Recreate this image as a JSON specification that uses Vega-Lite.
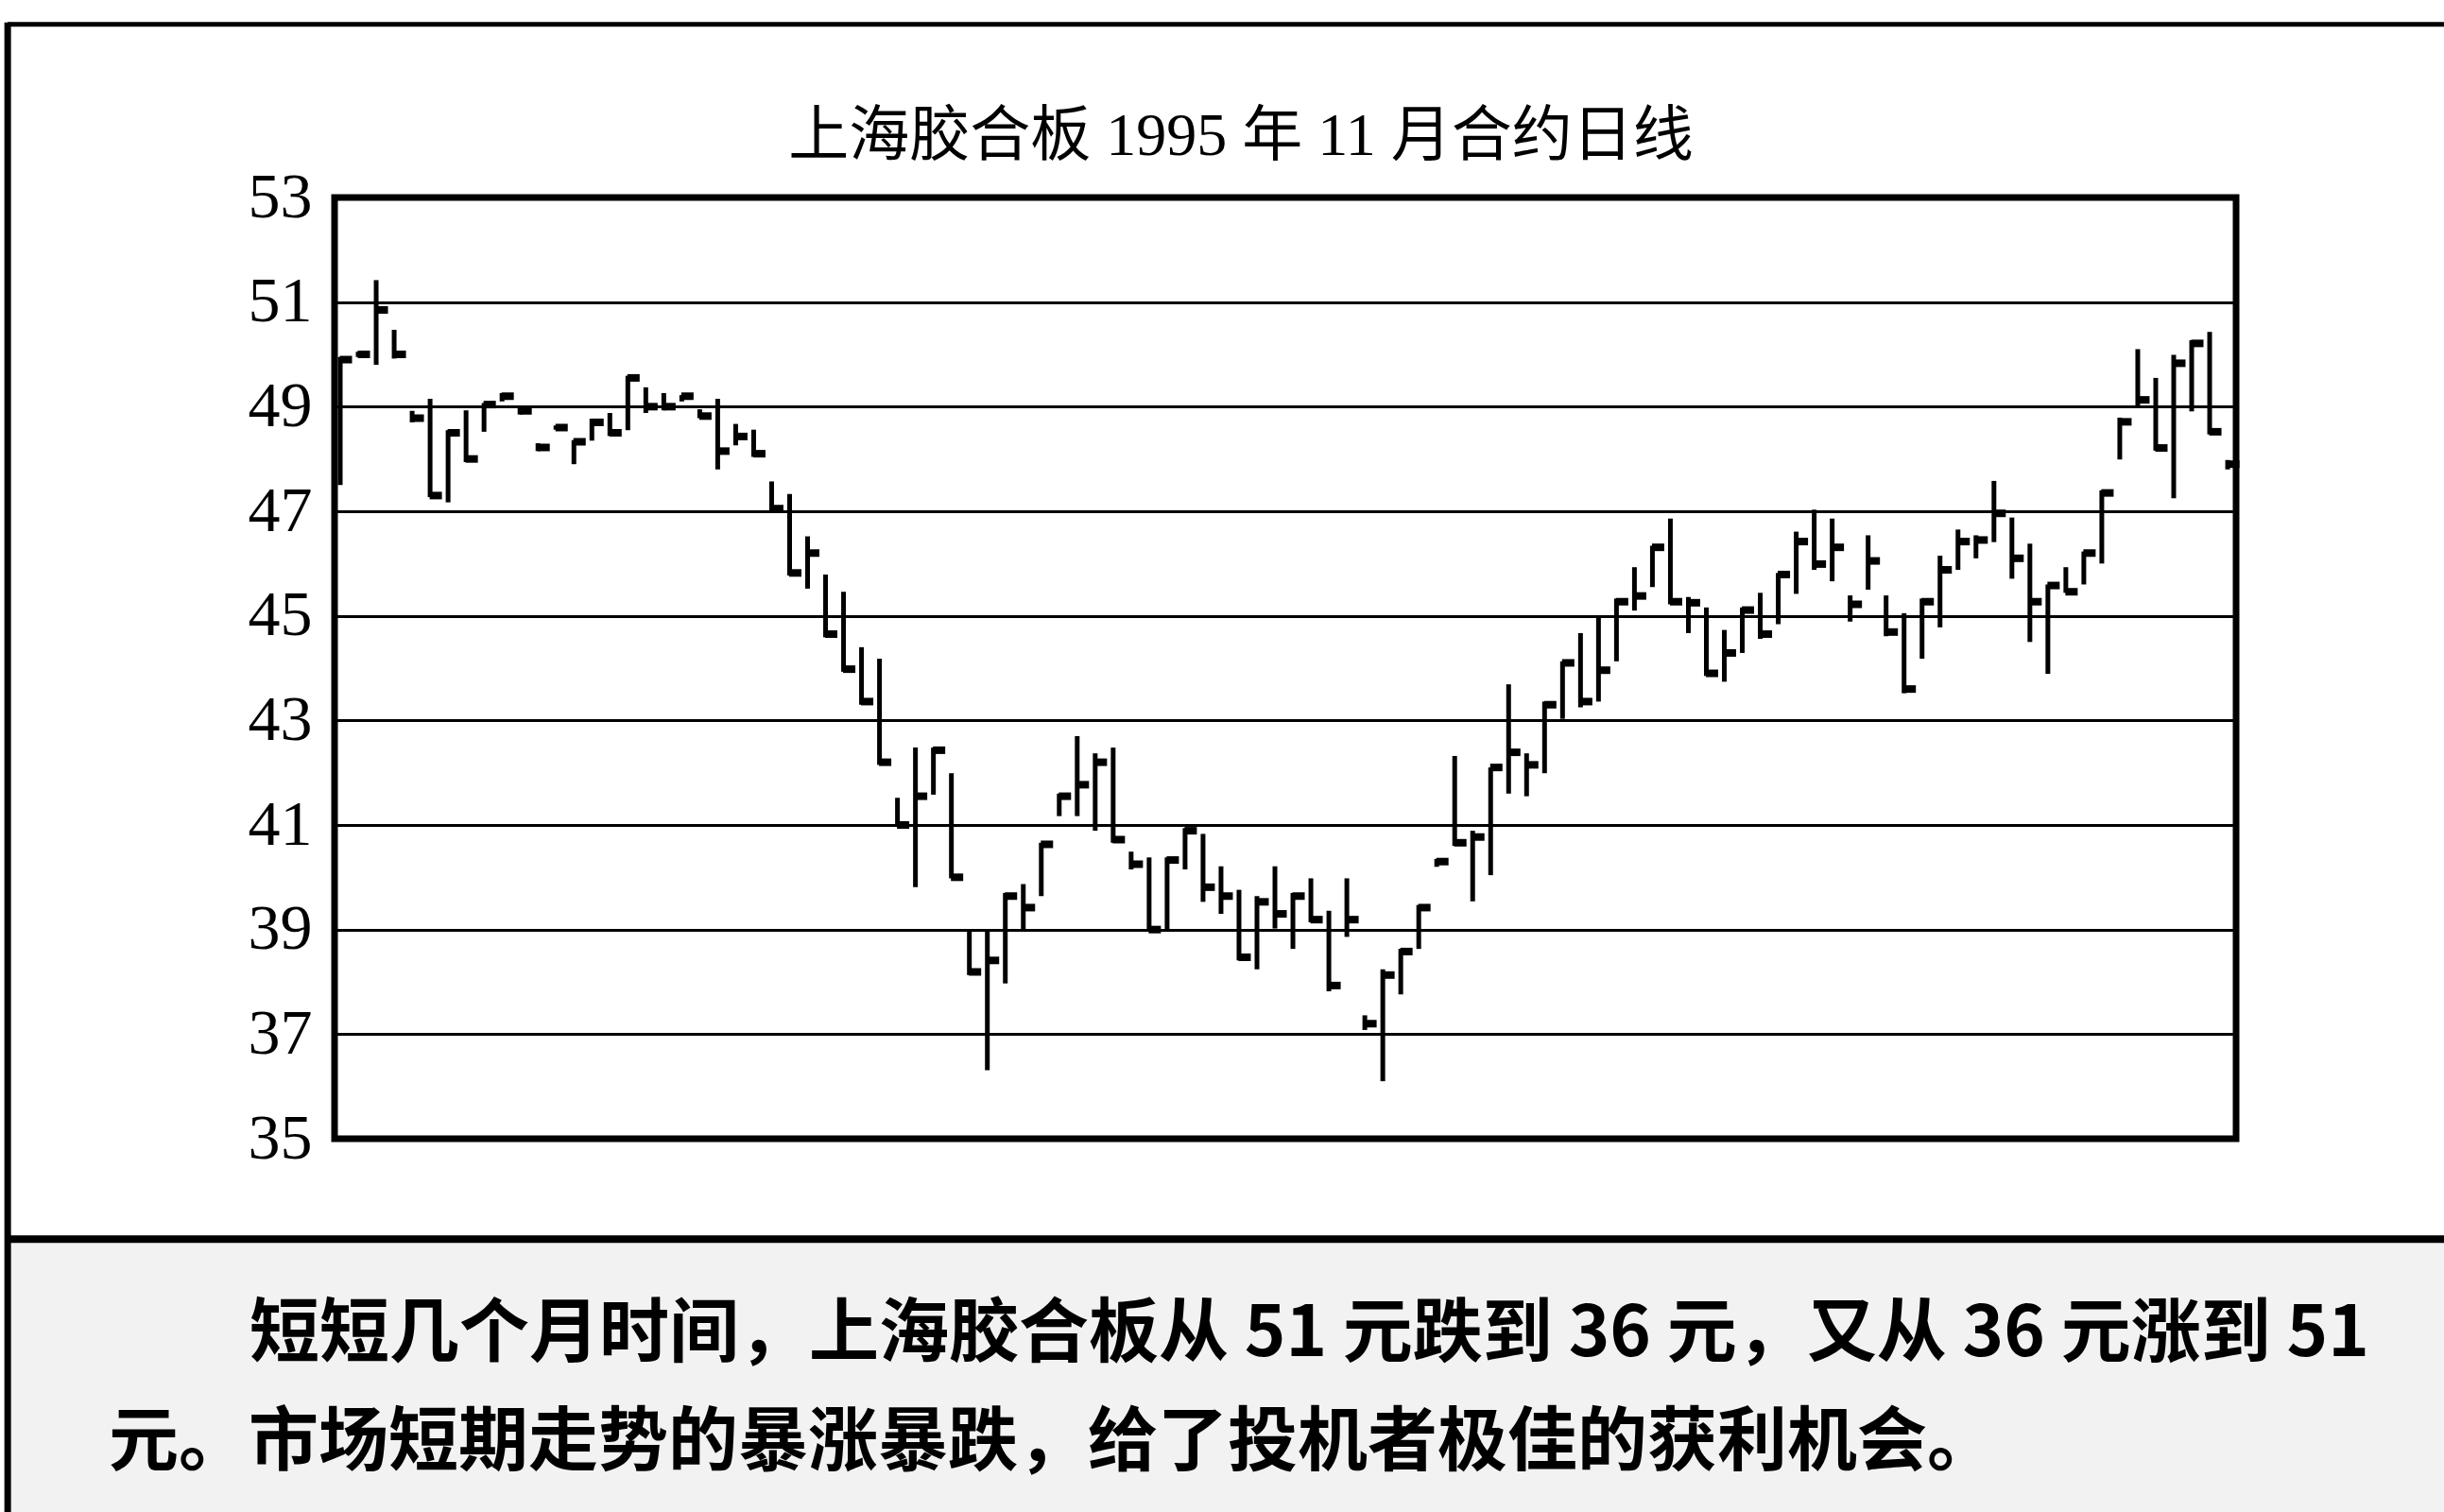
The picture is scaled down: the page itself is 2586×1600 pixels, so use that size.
{
  "$schema": "https://vega.github.io/schema/vega-lite/v6.json",
  "width": 2012,
  "height": 996,
  "autosize": {"type": "none"},
  "padding": {"left": 354, "top": 209, "right": 220, "bottom": 395},
  "background": "white",
  "title": {
    "text": "上海胶合板 1995 年 11 月合约日线",
    "font": "Liberation Serif, Noto Sans CJK SC",
    "fontSize": 64,
    "fontWeight": "normal",
    "color": "black",
    "anchor": "middle",
    "frame": "group",
    "baseline": "alphabetic",
    "offset": 0,
    "dy": 208,
    "dx": -47
  },
  "config": {
    "view": {"stroke": "black", "strokeWidth": 7}
  },
  "datasets": {
    "bars": [
      {"day": 1, "high": 49.95, "low": 47.5, "close": 49.9},
      {"day": 2, "high": 50.05, "low": 49.95, "close": 50.0},
      {"day": 3, "high": 51.42, "low": 49.8, "close": 50.85},
      {"day": 4, "high": 50.47, "low": 49.92, "close": 50.0},
      {"day": 5, "high": 48.92, "low": 48.7, "close": 48.78},
      {"day": 6, "high": 49.15, "low": 47.27, "close": 47.3},
      {"day": 7, "high": 48.55, "low": 47.17, "close": 48.5},
      {"day": 8, "high": 48.93, "low": 47.94, "close": 48.0},
      {"day": 9, "high": 49.07, "low": 48.52, "close": 49.04},
      {"day": 10, "high": 49.26, "low": 49.1, "close": 49.2},
      {"day": 11, "high": 48.98, "low": 48.85, "close": 48.92},
      {"day": 12, "high": 48.3, "low": 48.15, "close": 48.22},
      {"day": 13, "high": 48.64, "low": 48.56, "close": 48.6},
      {"day": 14, "high": 48.36, "low": 47.9, "close": 48.33},
      {"day": 15, "high": 48.77, "low": 48.35, "close": 48.7},
      {"day": 16, "high": 48.88, "low": 48.44, "close": 48.5},
      {"day": 17, "high": 49.59, "low": 48.55, "close": 49.55},
      {"day": 18, "high": 49.37, "low": 48.88, "close": 49.0},
      {"day": 19, "high": 49.26, "low": 48.93, "close": 49.0},
      {"day": 20, "high": 49.22, "low": 49.1, "close": 49.2},
      {"day": 21, "high": 48.95, "low": 48.78, "close": 48.82},
      {"day": 22, "high": 49.15, "low": 47.8, "close": 48.15},
      {"day": 23, "high": 48.67, "low": 48.26, "close": 48.43},
      {"day": 24, "high": 48.56, "low": 48.04, "close": 48.1},
      {"day": 25, "high": 47.57, "low": 47.0, "close": 47.05},
      {"day": 26, "high": 47.33, "low": 45.77, "close": 45.82},
      {"day": 27, "high": 46.52, "low": 45.52, "close": 46.2},
      {"day": 28, "high": 45.79, "low": 44.59, "close": 44.65},
      {"day": 29, "high": 45.46, "low": 43.93, "close": 43.98},
      {"day": 30, "high": 44.4, "low": 43.3, "close": 43.36},
      {"day": 31, "high": 44.18, "low": 42.15, "close": 42.2},
      {"day": 32, "high": 41.52, "low": 40.97, "close": 41.0},
      {"day": 33, "high": 42.48, "low": 39.81, "close": 41.55},
      {"day": 34, "high": 42.48, "low": 41.58, "close": 42.43},
      {"day": 35, "high": 41.99, "low": 39.98, "close": 40.0},
      {"day": 36, "high": 38.97, "low": 38.13, "close": 38.19},
      {"day": 37, "high": 38.97, "low": 36.31, "close": 38.41},
      {"day": 38, "high": 39.7, "low": 37.97, "close": 39.64},
      {"day": 39, "high": 39.87, "low": 38.97, "close": 39.42},
      {"day": 40, "high": 40.66, "low": 39.64, "close": 40.63},
      {"day": 41, "high": 41.6, "low": 41.17, "close": 41.55},
      {"day": 42, "high": 42.7, "low": 41.17, "close": 41.77},
      {"day": 43, "high": 42.37, "low": 40.89, "close": 42.2},
      {"day": 44, "high": 42.48, "low": 40.66, "close": 40.72},
      {"day": 45, "high": 40.49, "low": 40.15, "close": 40.25},
      {"day": 46, "high": 40.38, "low": 38.97, "close": 39.0},
      {"day": 47, "high": 40.38, "low": 39.0, "close": 40.33},
      {"day": 48, "high": 40.94, "low": 40.15, "close": 40.89},
      {"day": 49, "high": 40.83, "low": 39.53, "close": 39.81},
      {"day": 50, "high": 40.21, "low": 39.3, "close": 39.64},
      {"day": 51, "high": 39.76, "low": 38.41, "close": 38.47},
      {"day": 52, "high": 39.64, "low": 38.24, "close": 39.53},
      {"day": 53, "high": 40.21, "low": 39.02, "close": 39.3},
      {"day": 54, "high": 39.7, "low": 38.63, "close": 39.64},
      {"day": 55, "high": 39.98, "low": 39.14, "close": 39.19},
      {"day": 56, "high": 39.36, "low": 37.82, "close": 37.93},
      {"day": 57, "high": 39.98, "low": 38.86, "close": 39.19},
      {"day": 58, "high": 37.36, "low": 37.08, "close": 37.2},
      {"day": 59, "high": 38.24, "low": 36.1, "close": 38.13},
      {"day": 60, "high": 38.63, "low": 37.76, "close": 38.58},
      {"day": 61, "high": 39.47, "low": 38.63, "close": 39.42},
      {"day": 62, "high": 40.35, "low": 40.2, "close": 40.3},
      {"day": 63, "high": 42.32, "low": 40.6, "close": 40.66},
      {"day": 64, "high": 40.89, "low": 39.54, "close": 40.77},
      {"day": 65, "high": 42.1, "low": 40.04, "close": 42.1},
      {"day": 66, "high": 43.69, "low": 41.6, "close": 42.39},
      {"day": 67, "high": 42.37, "low": 41.55, "close": 42.15},
      {"day": 68, "high": 43.36, "low": 41.99, "close": 43.3},
      {"day": 69, "high": 44.13, "low": 43.03, "close": 44.1},
      {"day": 70, "high": 44.67, "low": 43.25, "close": 43.36},
      {"day": 71, "high": 45.0, "low": 43.36, "close": 43.96},
      {"day": 72, "high": 45.33, "low": 44.13, "close": 45.27},
      {"day": 73, "high": 45.93, "low": 45.1, "close": 45.38},
      {"day": 74, "high": 46.34, "low": 45.55, "close": 46.31},
      {"day": 75, "high": 46.86, "low": 45.22, "close": 45.27},
      {"day": 76, "high": 45.36, "low": 44.67, "close": 45.25},
      {"day": 77, "high": 45.16, "low": 43.85, "close": 43.9},
      {"day": 78, "high": 44.73, "low": 43.74, "close": 44.29},
      {"day": 79, "high": 45.16, "low": 44.29, "close": 45.11},
      {"day": 80, "high": 45.44, "low": 44.56, "close": 44.65},
      {"day": 81, "high": 45.82, "low": 44.84, "close": 45.79},
      {"day": 82, "high": 46.61, "low": 45.42, "close": 46.42},
      {"day": 83, "high": 47.03, "low": 45.88, "close": 45.99},
      {"day": 84, "high": 46.86, "low": 45.66, "close": 46.31},
      {"day": 85, "high": 45.39, "low": 44.89, "close": 45.22},
      {"day": 86, "high": 46.54, "low": 45.5, "close": 46.05},
      {"day": 87, "high": 45.39, "low": 44.61, "close": 44.69},
      {"day": 88, "high": 45.05, "low": 43.52, "close": 43.6},
      {"day": 89, "high": 45.33, "low": 44.18, "close": 45.27},
      {"day": 90, "high": 46.15, "low": 44.78, "close": 45.88},
      {"day": 91, "high": 46.65, "low": 45.88, "close": 46.42},
      {"day": 92, "high": 46.54, "low": 46.1, "close": 46.45},
      {"day": 93, "high": 47.58, "low": 46.41, "close": 46.96},
      {"day": 94, "high": 46.88, "low": 45.71, "close": 46.1},
      {"day": 95, "high": 46.38, "low": 44.5, "close": 45.27},
      {"day": 96, "high": 45.6, "low": 43.89, "close": 45.58},
      {"day": 97, "high": 45.93, "low": 45.44, "close": 45.46},
      {"day": 98, "high": 46.23, "low": 45.6, "close": 46.2},
      {"day": 99, "high": 47.4, "low": 46.0, "close": 47.35},
      {"day": 100, "high": 48.79, "low": 47.99, "close": 48.71},
      {"day": 101, "high": 50.1, "low": 48.97, "close": 49.13},
      {"day": 102, "high": 49.55, "low": 48.16, "close": 48.21},
      {"day": 103, "high": 49.99, "low": 47.25, "close": 49.83},
      {"day": 104, "high": 50.27, "low": 48.91, "close": 50.21},
      {"day": 105, "high": 50.43, "low": 48.47, "close": 48.52},
      {"day": 106, "high": 47.98, "low": 47.8, "close": 47.9}
    ],
    "caption1": [
      {"line": "短短几个月时间，上海胶合板从 51 元跌到 36 元，又从 36 元涨到 51"}
    ],
    "caption2": [
      {"line": "元。市场短期走势的暴涨暴跌，给了投机者极佳的获利机会。"}
    ]
  },
  "layer": [
    {
      "data": {"name": "bars"},
      "mark": {"type": "rule", "color": "black", "strokeWidth": 5},
      "encoding": {
        "x": {
          "field": "day",
          "type": "quantitative",
          "scale": {"domain": [0.6845, 106.47], "nice": false, "zero": false},
          "axis": null
        },
        "y": {
          "field": "low",
          "type": "quantitative",
          "scale": {"domain": [35, 53], "nice": false, "zero": false},
          "axis": {
            "values": [35, 37, 39, 41, 43, 45, 47, 49, 51, 53],
            "grid": true,
            "gridColor": "black",
            "gridWidth": 3,
            "gridOpacity": 1,
            "domain": false,
            "ticks": false,
            "labelFont": "Liberation Serif",
            "labelFontSize": 68,
            "labelColor": "black",
            "labelPadding": 24,
            "labelBaseline": "middle",
            "title": null
          }
        },
        "y2": {"field": "high"}
      }
    },
    {
      "data": {"name": "bars"},
      "mark": {"type": "tick", "orient": "horizontal", "color": "black", "size": 13, "thickness": 8, "xOffset": 6, "opacity": 1},
      "encoding": {
        "x": {"field": "day", "type": "quantitative"},
        "y": {"field": "close", "type": "quantitative"}
      }
    },
    {
      "data": {"values": [{"part": "caption"}]},
      "mark": {"type": "rect", "color": "#f2f2f2", "clip": false},
      "encoding": {
        "x": {"datum": -17.5, "type": "quantitative"},
        "x2": {"datum": 200},
        "y": {"datum": 33.08, "type": "quantitative"},
        "y2": {"datum": 26}
      }
    },
    {
      "data": {"values": [{"part": "frame"}]},
      "mark": {"type": "rule", "color": "black", "strokeWidth": 5, "clip": false},
      "encoding": {
        "x": {"datum": -17.5, "type": "quantitative"},
        "x2": {"datum": 200},
        "y": {"datum": 56.31, "type": "quantitative"}
      }
    },
    {
      "data": {"values": [{"part": "frame"}]},
      "mark": {"type": "rule", "color": "black", "strokeWidth": 7, "clip": false},
      "encoding": {
        "x": {"datum": -17.5, "type": "quantitative"},
        "y": {"datum": 56.35, "type": "quantitative"},
        "y2": {"datum": 26}
      }
    },
    {
      "data": {"values": [{"part": "frame"}]},
      "mark": {"type": "rule", "color": "black", "strokeWidth": 8, "clip": false},
      "encoding": {
        "x": {"datum": -17.5, "type": "quantitative"},
        "x2": {"datum": 200},
        "y": {"datum": 33.08, "type": "quantitative"}
      }
    },
    {
      "data": {"name": "caption1"},
      "mark": {"type": "text", "align": "left", "baseline": "middle", "font": "Noto Sans CJK SC", "fontSize": 74, "fontWeight": "bold", "color": "black", "clip": false},
      "encoding": {
        "x": {"datum": -4.05, "type": "quantitative"},
        "y": {"datum": 31.24, "type": "quantitative"},
        "text": {"field": "line"}
      }
    },
    {
      "data": {"name": "caption2"},
      "mark": {"type": "text", "align": "left", "baseline": "middle", "font": "Noto Sans CJK SC", "fontSize": 74, "fontWeight": "bold", "color": "black", "clip": false},
      "encoding": {
        "x": {"datum": -11.88, "type": "quantitative"},
        "y": {"datum": 29.16, "type": "quantitative"},
        "text": {"field": "line"}
      }
    }
  ]
}
